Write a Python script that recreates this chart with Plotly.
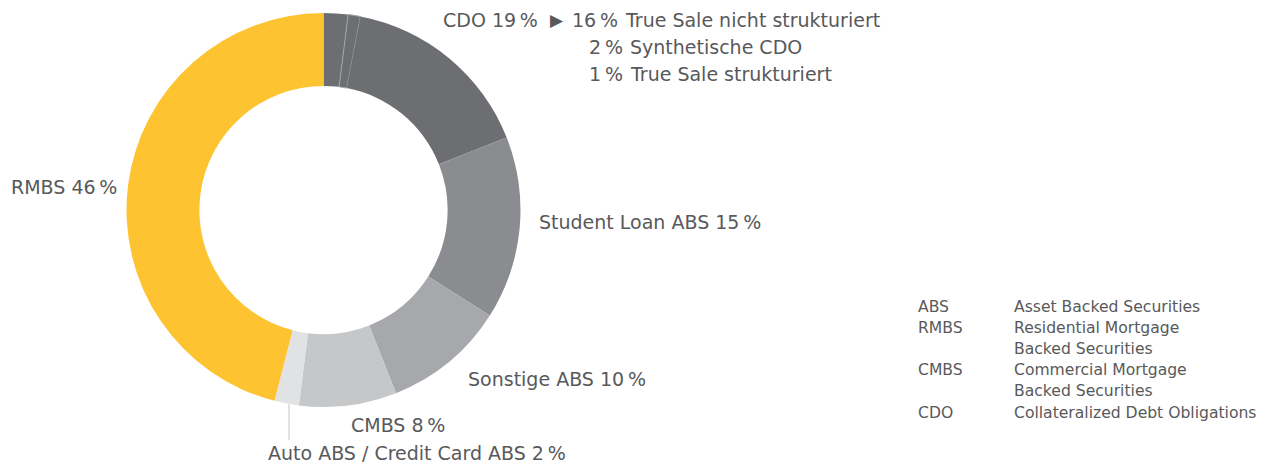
import plotly.graph_objects as go

# Data -
segments = ["Synthetische CDO", "True Sale strukturiert", "True Sale nicht strukturiert",
            "Student Loan ABS", "Sonstige ABS", "CMBS", "Auto ABS / Credit Card ABS", "RMBS"]
shares = [2, 1, 16, 15, 10, 8, 2, 46]
colors = ["#6d6e71", "#6d6e71", "#6d6e71", "#8b8c8f", "#a7a8ab", "#c6c7c9", "#e1e2e4", "#fec330"]

cdo_total = 19
cdo_parts = [("16", "True Sale nicht strukturiert"), ("2", "Synthetische CDO"), ("1", "True Sale strukturiert")]

glossary_abbr = ["ABS", "RMBS", "", "CMBS", "", "CDO"]
glossary_text = ["Asset Backed Securities", "Residential Mortgage", "Backed Securities",
                 "Commercial Mortgage", "Backed Securities", "Collateralized Debt Obligations"]

W, H = 1262, 464
TXT = "#58595b"
FONT = "DejaVu Sans"
NB = "\u2009"  # thin space before %


def px(x, y):
    return x / W, 1 - y / H


# donut geometry in pixels (screen)
cx, cy, r = 323.5, 210, 197
dx0, dy0 = px(cx - r, cy - r)
dx1, dy1 = px(cx + r, cy + r)

clear = "rgba(0,0,0,0)"
fig = go.Figure(go.Pie(
    labels=segments, values=shares, sort=False, direction="clockwise", rotation=0,
    hole=0.63, textinfo="none", hoverinfo="label+percent",
    marker=dict(colors=colors,
                line=dict(color=[clear, "#a3a4a7", clear, clear, clear, clear, clear, clear],
                          width=[0, 1, 0, 0, 0, 0, 0, 0])),
    domain=dict(x=[dx0, dx1], y=[dy1, dy0]),
    showlegend=False,
))

ann = []


def label(x, y, text, anchor="left", size=19, color=TXT):
    ax, ay = px(x, y)
    ann.append(dict(x=ax, y=ay, xref="paper", yref="paper", text=text, showarrow=False,
                    xanchor=anchor, yanchor="middle", font=dict(family=FONT, size=size, color=color)))


# CDO breakdown
label(441, 20, f"CDO {cdo_total}{NB}%")
label(548, 20, "\u25B6", size=17)
for i, (num, txt) in enumerate(cdo_parts):
    y = 20 + i * 27
    shift = 0 if i == 0 else 5
    label(620 + shift, y, f"{num}{NB}%", anchor="right")
    label(623 + shift, y, txt)

label(537, 222, f"Student Loan ABS {shares[3]}{NB}%")
label(466, 379, f"Sonstige ABS {shares[4]}{NB}%")
label(349, 425, f"CMBS {shares[5]}{NB}%")
label(266, 453, f"Auto ABS / Credit Card ABS {shares[6]}{NB}%")
label(9, 187, f"RMBS {shares[7]}{NB}%")

# glossary
for i, (a, t) in enumerate(zip(glossary_abbr, glossary_text)):
    y = 306.5 + i * 21.2
    if a:
        label(916, y, a, size=15.6)
    label(1012, y, t, size=15.6)

x0, y0 = px(289, 404)
x1, y1 = px(289, 440)
fig.update_layout(
    width=W, height=H,
    margin=dict(l=0, r=0, t=0, b=0),
    paper_bgcolor="white", plot_bgcolor="white",
    annotations=ann,
    shapes=[dict(type="line", xref="paper", yref="paper", x0=x0, y0=y0, x1=x1, y1=y1,
                 line=dict(color="#e1e2e4", width=2))],
)

# drop the default body margin so the figure fills the window
fig.write_html("out.html", config={"displayModeBar": False},
               post_script="document.body.style.margin='0';")
